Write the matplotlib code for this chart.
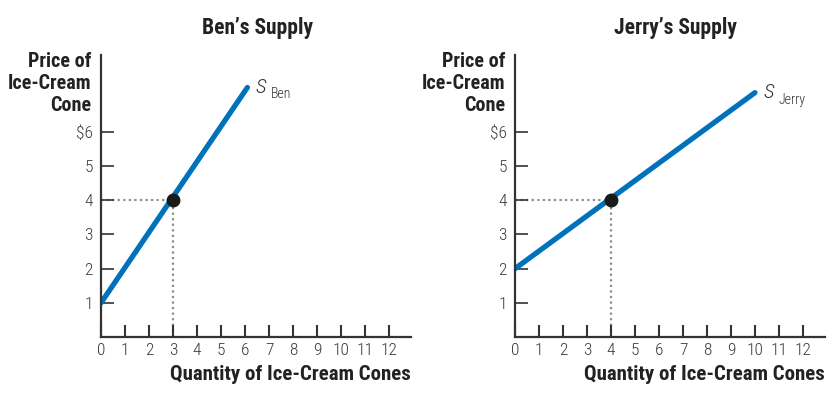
import matplotlib
matplotlib.use("Agg")
import matplotlib.pyplot as plt

# supply curve data
ben_qty = [0, 6.1]
ben_price = [1, 7.3]
ben_point = (3, 4)

jerry_qty = [0, 10]
jerry_price = [2, 7.15]
jerry_point = (4, 4)

x_ticks = list(range(13))
y_ticks = [1, 2, 3, 4, 5, 6]
y_labels = ["1", "2", "3", "4", "5", "$6"]

BLUE = "#0072bb"
DARK = "#333333"

plt.rcParams['font.family'] = ['Roboto Condensed', 'DejaVu Sans']

fig = plt.figure(figsize=(8.34, 3.97), dpi=100)


def draw_panel(left, qty, price, point, title, sub, title_x):
    ax = fig.add_axes([left, 0.1511, 0.3712, 0.7103])
    ax.set_xlim(0, 12.9)
    ax.set_ylim(0, 8.25)
    for s in ["top", "right"]:
        ax.spines[s].set_visible(False)
    for s in ["left", "bottom"]:
        ax.spines[s].set_color(DARK)
        ax.spines[s].set_linewidth(1.6)
    ax.set_xticks(x_ticks)
    ax.set_xticklabels([str(t) for t in x_ticks], fontweight="light")
    ax.set_yticks(y_ticks)
    ax.set_yticklabels(y_labels, fontweight="light")
    ax.tick_params(axis="x", direction="in", length=9, width=1.5, color=DARK,
                   labelsize=12.5, labelcolor="#3a3a3a", pad=4)
    ax.tick_params(axis="y", direction="in", length=9, width=1.2, color=DARK,
                   labelsize=12.5, labelcolor="#3a3a3a", pad=6)

    px, py = point
    ax.plot([0, px], [py, py], ls=(0, (1, 1.5)), color="#8c8c8c", lw=1.6, zorder=1)
    ax.plot([px, px], [0, py], ls=(0, (1, 1.5)), color="#8c8c8c", lw=1.6, zorder=1)
    ax.plot(qty, price, color=BLUE, lw=3.8, solid_capstyle="round", zorder=2)
    ax.plot([px], [py], "o", color="#1a1a1a", ms=9, zorder=3)

    # S with subscript name at the end of the curve
    ax.annotate("S", (qty[-1], price[-1]), xytext=(6, 0), textcoords="offset points",
                fontsize=15, style="italic", fontweight="light", color="#333333",
                va="center", ha="left")
    ax.annotate(sub, (qty[-1], price[-1]), xytext=(17, -5), textcoords="offset points",
                fontsize=10, fontweight="light", color="#333333", va="center", ha="left")

    ax.text(-0.03, 1.01, "Price of\nIce-Cream\nCone", transform=ax.transAxes,
            ha="right", va="top", fontsize=14.5, fontweight="bold", color="#222222",
            linespacing=1.18)
    ax.text(1.0, -0.1, "Quantity of Ice-Cream Cones", transform=ax.transAxes,
            ha="right", va="top", fontsize=15, fontweight="bold", color="#222222")
    fig.text(title_x, 0.93, title, ha="center", va="center", fontsize=15.5,
             fontweight="bold", color="#222222")
    return ax


draw_panel(0.1211, ben_qty, ben_price, ben_point, "Ben\u2019s Supply", "Ben", 258 / 834)
draw_panel(0.6175, jerry_qty, jerry_price, jerry_point, "Jerry\u2019s Supply", "Jerry", 675 / 834)

fig.savefig("out.png", dpi=100)
